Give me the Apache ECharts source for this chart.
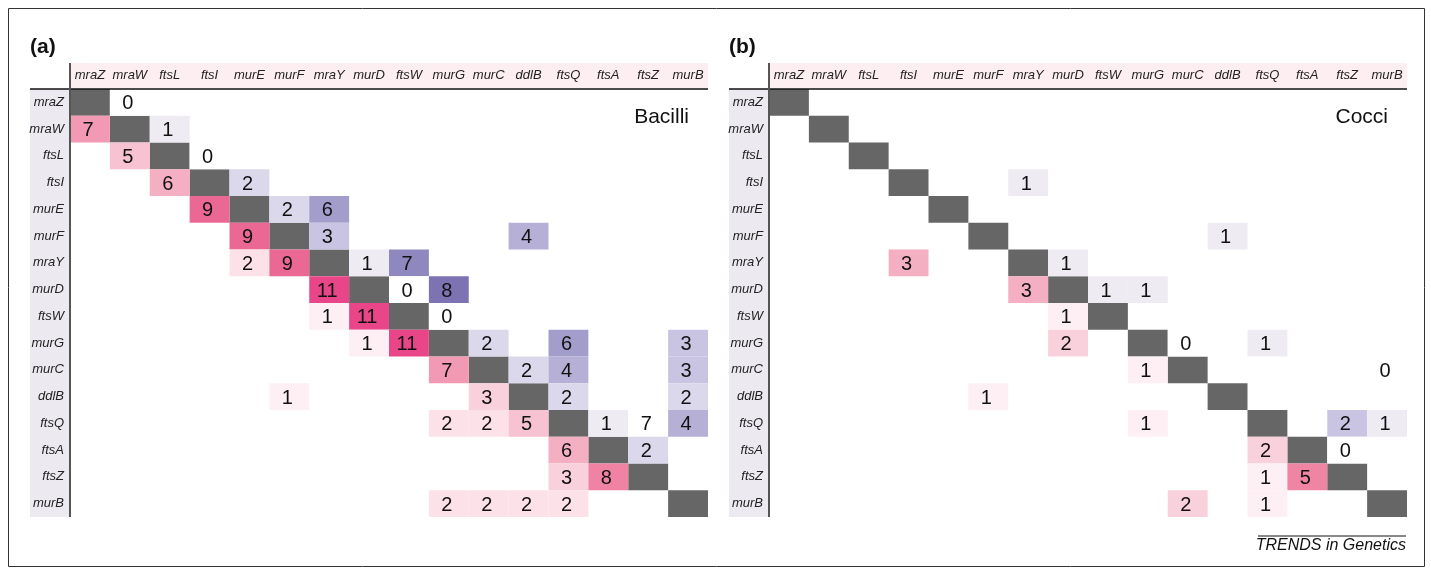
<!DOCTYPE html>
<html><head><meta charset="utf-8">
<script src="https://cdn.jsdelivr.net/npm/echarts@6/dist/echarts.min.js"></script>
<style>html,body{margin:0;padding:0;background:#fff}#c{width:1431px;height:571px}</style>
</head><body><div id="c"></div>
<script>
// Gene order (same for rows and columns)
const genes = ['mraZ','mraW','ftsL','ftsI','murE','murF','mraY','murD','ftsW','murG','murC','ddlB','ftsQ','ftsA','ftsZ','murB'];
// Cells as [row, col, value]; row > col = lower (pink) triangle, col > row = upper (purple)
const bacilli = [
 [0,1,0],
 [1,0,7],[1,2,1],
 [2,1,5],[2,3,0],
 [3,2,6],[3,4,2],
 [4,3,9],[4,5,2],[4,6,6],
 [5,4,9],[5,6,3],[5,11,4],
 [6,4,2],[6,5,9],[6,7,1],[6,8,7],
 [7,6,11],[7,8,0],[7,9,8],
 [8,6,1],[8,7,11],[8,9,0],
 [9,7,1],[9,8,11],[9,10,2],[9,12,6],[9,15,3],
 [10,9,7],[10,11,2],[10,12,4],[10,15,3],
 [11,5,1],[11,10,3],[11,12,2],[11,15,2],
 [12,9,2],[12,10,2],[12,11,5],[12,13,1],[12,14,7],[12,15,4],
 [13,12,6],[13,14,2],
 [14,12,3],[14,13,8],
 [15,9,2],[15,10,2],[15,11,2],[15,12,2]
];
const cocci = [
 [3,6,1],
 [5,11,1],
 [6,3,3],[6,7,1],
 [7,6,3],[7,8,1],[7,9,1],
 [8,7,1],
 [9,7,2],[9,10,0],[9,12,1],
 [10,9,1],[10,15,0],
 [11,5,1],
 [12,9,1],[12,14,2],[12,15,1],
 [13,12,2],[13,14,0],
 [14,12,1],[14,13,5],
 [15,10,2],[15,12,1]
];
// cells printed without shading, as [row, col]
const bacilliUnshaded = [[12,14]];
const cocciUnshaded = [];

const panelTitles = ['(a)','(b)'];
const panelNames = ['Bacilli','Cocci'];
const credit = 'TRENDS in Genetics';

// colour styles
const shades = [
 { lower:{1:'#fdeff3',2:'#fde1e8',3:'#f9d1dc',5:'#f7c2d1',6:'#f5afc2',7:'#f29ab3',8:'#f083a3',9:'#ec6894',11:'#e84689'},
   upper:{0:'#ffffff',1:'#eeebf3',2:'#dcd8eb',3:'#c9c4e1',4:'#b6b0d6',6:'#a39dcb',7:'#8f88bf',8:'#7d73b3'} },
 { lower:{1:'#fdeff3',2:'#f9d1dc',3:'#f5afc2',5:'#f084a3'},
   upper:{0:'#ffffff',1:'#eeebf3',2:'#c9c4e1'} }
];
const DIAG = '#666666';
const FONT = '"Liberation Sans", Arial, Helvetica, sans-serif';

function buildData(cells, unshaded) {
  const d = genes.map((g, i) => [i, i, -1, 0]); // diagonal
  cells.forEach(([r, c, v]) => {
    const plain = unshaded.some(([ur, uc]) => ur === r && uc === c);
    d.push([c, r, v, plain ? 2 : 1]);
  });
  return d;
}

function makeRender(p) {
  return function (params, api) {
    const col = api.value(0), row = api.value(1), v = api.value(2), kind = api.value(3);
    const pt = api.coord([col, row]);
    const sz = api.size([1, 1]);
    let fill;
    if (kind === 0) fill = DIAG;
    else if (kind === 2) fill = '#ffffff';
    else fill = (row > col ? shades[p].lower : shades[p].upper)[v] || '#ffffff';
    const children = [{
      type: 'rect',
      shape: { x: pt[0] - sz[0] / 2, y: pt[1] - sz[1] / 2, width: sz[0], height: sz[1] },
      style: { fill: fill }
    }];
    if (kind !== 0) {
      children.push({
        type: 'text',
        style: { text: String(v), x: pt[0] - 2, y: pt[1] + 1.5, align: 'center', verticalAlign: 'middle',
                 font: '20px ' + FONT, fill: '#111' }
      });
    }
    return { type: 'group', children: children };
  };
}

const grids = [
  { left: 70, top: 89, width: 638, height: 428 },
  { left: 769, top: 89, width: 638, height: 428 }
];

const xAxes = grids.map((g, i) => ({
  type: 'category', gridIndex: i, data: genes, position: 'top',
  axisLine: { show: false }, axisTick: { show: false }, splitLine: { show: false },
  axisLabel: { interval: 0, margin: 7, fontStyle: 'italic', fontSize: 13, color: '#222', fontFamily: FONT }
}));
const yAxes = grids.map((g, i) => ({
  type: 'category', gridIndex: i, data: genes, inverse: true,
  axisLine: { show: false }, axisTick: { show: false }, splitLine: { show: false },
  axisLabel: { interval: 0, margin: 6, fontStyle: 'italic', fontSize: 13, color: '#222', fontFamily: FONT }
}));

const series = [
  { type: 'custom', xAxisIndex: 0, yAxisIndex: 0, data: buildData(bacilli, bacilliUnshaded),
    encode: { x: 0, y: 1 }, renderItem: makeRender(0), silent: true, z: 5 },
  { type: 'custom', xAxisIndex: 1, yAxisIndex: 1, data: buildData(cocci, cocciUnshaded),
    encode: { x: 0, y: 1 }, renderItem: makeRender(1), silent: true, z: 5 }
];

const graphic = [];
grids.forEach((g, i) => {
  const labL = g.left - 40;
  graphic.push(
    { type: 'rect', z: -10, shape: { x: g.left, y: g.top - 26, width: g.width, height: 26 }, style: { fill: '#fdeef2' } },
    { type: 'rect', z: -10, shape: { x: labL, y: g.top, width: 39, height: g.height }, style: { fill: '#ece9f1' } },
    { type: 'line', z: 50, shape: { x1: labL, y1: g.top, x2: g.left + g.width, y2: g.top }, style: { stroke: '#111', lineWidth: 1.5 } },
    { type: 'line', z: 50, shape: { x1: g.left, y1: g.top - 26, x2: g.left, y2: g.top + g.height }, style: { stroke: '#555', lineWidth: 2 } },
    { type: 'text', z: 50, style: { text: panelTitles[i], x: labL, y: 47, verticalAlign: 'middle', font: 'bold 21px ' + FONT, fill: '#111' } },
    { type: 'text', z: 50, style: { text: panelNames[i], x: g.left + g.width - 19 - (i === 0 ? 0 : 0), y: 117, align: 'right', verticalAlign: 'middle', font: '21px ' + FONT, fill: '#111' } }
  );
});
graphic.push(
  { type: 'rect', z: 60, shape: { x: 8.5, y: 8.5, width: 1416, height: 558 }, style: { fill: 'none', stroke: '#333', lineWidth: 1 } },
  { type: 'line', z: 60, shape: { x1: 1258, y1: 536, x2: 1406, y2: 536 }, style: { stroke: '#111', lineWidth: 1 } },
  { type: 'text', z: 60, style: { text: credit, x: 1406, y: 546, align: 'right', verticalAlign: 'middle', font: 'italic 16px ' + FONT, fill: '#111' } }
);

const chart = echarts.init(document.getElementById('c'), null, { renderer: 'canvas' });
chart.setOption({
  animation: false,
  backgroundColor: '#ffffff',
  grid: grids,
  xAxis: xAxes,
  yAxis: yAxes,
  series: series,
  graphic: graphic
});
</script></body></html>
